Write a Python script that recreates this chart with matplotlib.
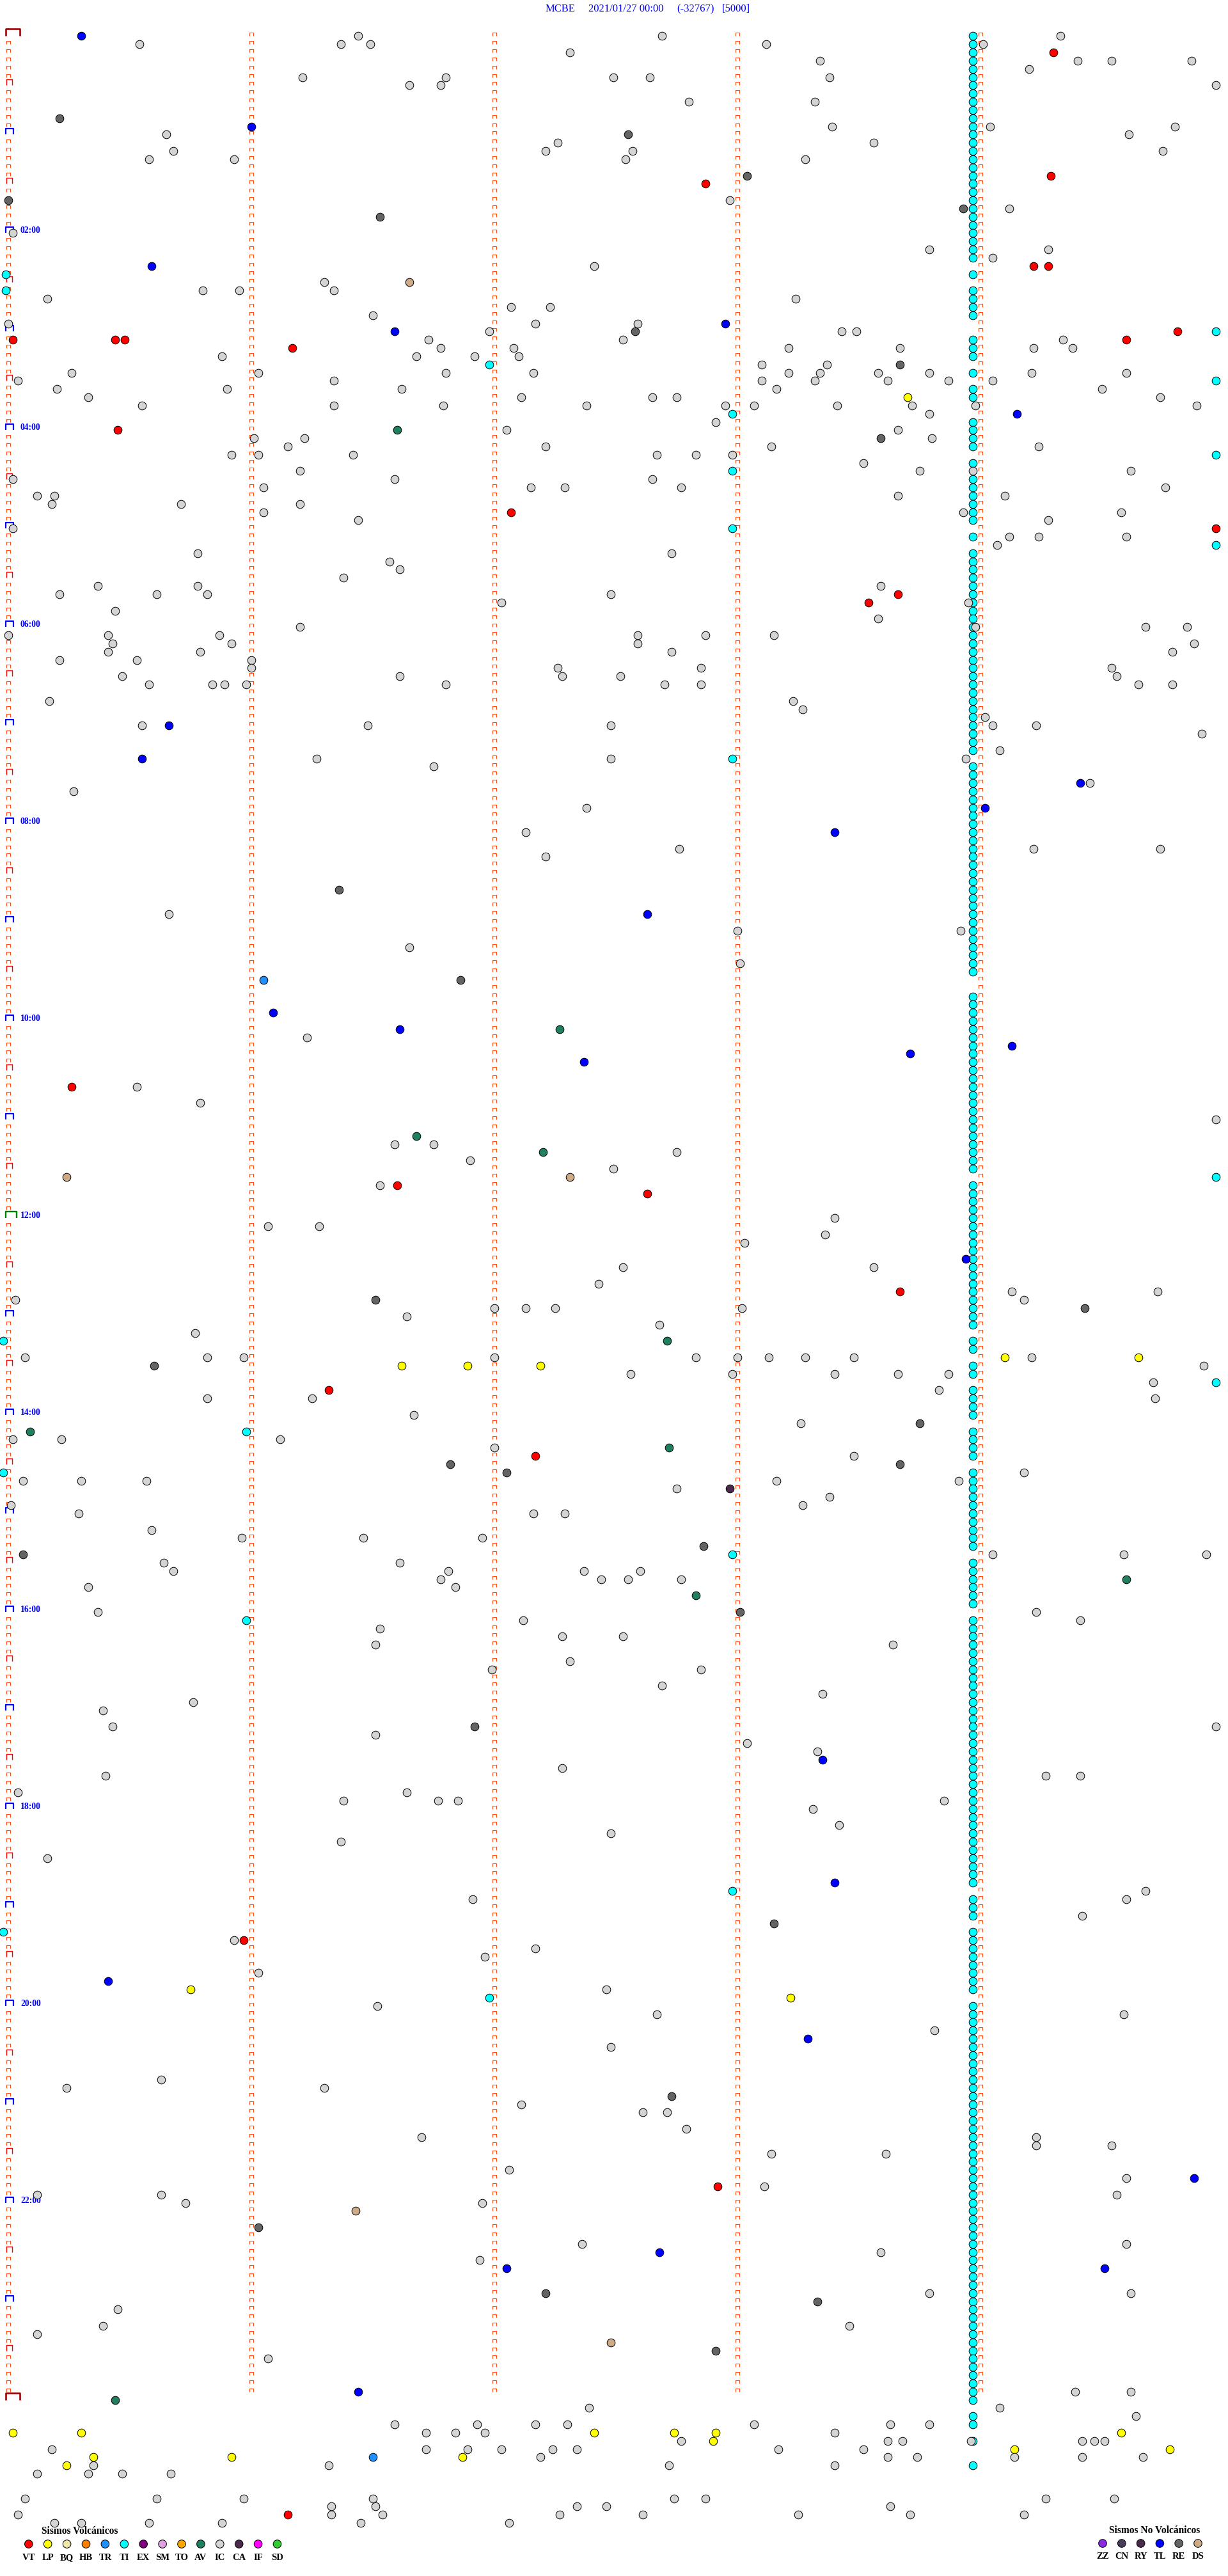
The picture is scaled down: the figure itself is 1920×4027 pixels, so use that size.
import matplotlib
matplotlib.use("Agg")
import matplotlib.pyplot as plt
from matplotlib.path import Path
from matplotlib import transforms
import numpy as np

plt.rcParams['font.family'] = ['Liberation Serif', 'DejaVu Serif']

W, H, DPI = 1920, 4027, 100
PT = 72.0 / DPI  # points per pixel

# ---------------- data ----------------
STATION = "MCBE"
DATE = "2021/01/27 00:00"
OFFSET = "(-32767)"
SCALE = "[5000]"
N_ROWS = 288            # 5-minute rows of the day
N_COLS = 5              # minute ticks per row
HOUR_LABELS = ["02:00", "04:00", "06:00", "08:00", "10:00", "12:00",
               "14:00", "16:00", "18:00", "20:00", "22:00"]

# events: (row, minute within row)
TI_RUNS = [(0, 27), (29, 29), (31, 34), (37, 39), (41, 41), (43, 44), (47, 50), (52, 52),
           (54, 59), (61, 61), (63, 87), (89, 114), (117, 138), (140, 157), (159, 160),
           (162, 163), (165, 168), (170, 173), (175, 184), (186, 191), (193, 225),
           (227, 229), (231, 238), (240, 288), (290, 291), (293, 293), (296, 296)]
TI_RUN_MIN = 3.97
TI = [(29, -0.01), (31, -0.01), (36, 4.97), (40, 1.98), (42, 4.97), (46, 2.98), (51, 4.97),
      (53, 2.98), (60, 2.98), (62, 4.97), (88, 2.98), (139, 4.97), (159, -0.02), (164, 4.97),
      (170, 0.98), (175, -0.02), (185, 2.98), (193, 0.98), (226, 2.98), (231, -0.02), (239, 1.98)]

IC = [
(0,1.44),(0,2.69),(0,4.33),(1,0.54),(1,1.37),(1,1.49),(1,3.12),(1,4.01),(2,2.31),(3,3.34),(3,4.40),(3,4.54),(3,4.87),(4,4.20),
(5,1.21),(5,1.80),(5,2.49),(5,2.64),(5,3.38),(6,1.65),(6,1.78),(6,4.97),(8,2.80),(8,3.32),
(11,3.39),(11,4.04),(11,4.80),(12,0.65),(12,4.61),(13,2.26),(13,3.56),(14,0.68),(14,2.21),(14,2.57),(14,4.75),
(15,0.58),(15,0.93),(15,2.54),(15,3.28),(20,2.97),(21,4.12),(24,0.02),(26,3.79),(26,4.28),(27,4.05),(28,2.41),
(30,1.30),(31,0.80),(31,0.95),(31,1.34),(32,0.16),(32,3.24),(33,2.07),(33,2.23),(34,1.50),
(35,0.00),(35,2.17),(35,2.59),(36,1.98),(36,3.43),(36,3.49),(37,1.73),(37,2.53),(37,4.34),
(38,1.78),(38,2.08),(38,3.21),(38,3.67),(38,4.22),(38,4.38),(39,0.88),(39,1.68),(39,1.92),(39,2.10),
(40,3.10),(40,3.37),(41,0.26),(41,1.03),(41,1.80),(41,2.16),(41,3.21),(41,3.34),(41,3.58),(41,3.79),(41,4.21),(41,4.60),
(42,0.04),(42,1.34),(42,3.10),(42,3.32),(42,3.62),(42,3.87),(42,4.05),(43,0.20),(43,0.90),(43,1.62),(43,3.16),(43,4.50),
(44,0.33),(44,2.11),(44,2.65),(44,2.75),(44,4.74),(45,0.55),(45,1.34),(45,1.79),(45,2.38),(45,2.95),(45,3.07),(45,3.41),(45,3.72),(45,3.98),(45,4.89),
(46,3.79),(47,2.91),(48,2.05),(48,3.66),(49,1.01),(49,1.22),(49,3.80),(50,1.15),(50,2.21),(50,3.14),(50,4.24),
(51,0.92),(51,1.03),(51,1.42),(51,2.67),(51,2.83),(51,2.98),(52,3.52),(53,1.20),(53,3.75),(53,3.97),(53,4.62),
(54,0.02),(54,1.59),(54,2.65),(55,1.05),(55,2.15),(55,2.29),(55,2.77),(55,4.76),(56,0.12),(56,0.19),(56,3.66),(56,4.10),
(57,0.18),(57,0.71),(57,1.20),(58,1.05),(58,3.93),(58,4.58),(59,1.44),(59,4.28),(60,0.02),(61,4.12),(61,4.24),(61,4.60),(62,4.07),
(63,0.78),(63,2.73),(64,1.57),(65,1.61),(66,1.38),(67,0.37),(67,0.78),(67,3.59),(68,0.21),(68,0.61),(68,0.82),(68,2.48),
(69,2.03),(69,3.95),(70,0.44),(71,3.58),(72,1.20),(72,3.98),(72,4.68),(72,4.85),
(73,0.00),(73,0.41),(73,0.87),(73,2.59),(73,2.87),(73,3.15),(74,0.43),(74,0.92),(74,2.59),(74,4.88),
(75,0.41),(75,0.79),(75,2.73),(75,4.79),(76,0.21),(76,0.53),(76,1.00),(77,1.00),(77,2.26),(77,2.85),(77,4.54),
(78,0.47),(78,1.61),(78,2.28),(78,2.52),(78,4.56),
(79,0.58),(79,0.84),(79,0.89),(79,0.98),(79,1.80),(79,2.70),(79,2.85),(79,4.65),(79,4.79),
(81,0.17),(81,3.23),(82,3.27),(83,4.02),(84,0.55),(84,1.48),(84,2.48),(84,4.05),(84,4.23),(85,4.91),(87,4.08),
(88,1.27),(88,2.48),(88,3.94),(89,1.75),(91,4.45),(92,0.27),(94,2.38),(97,2.13),(99,2.76),(99,4.22),(99,4.74),(100,2.21),
(107,0.66),(109,3.00),(109,3.92),(111,1.65),(113,3.01),(122,1.23),(128,0.53),(130,0.79),(132,4.97),
(135,1.59),(135,1.75),(136,2.75),(137,1.90),(138,2.49),(140,1.53),(144,3.40),(145,1.07),(145,1.28),(146,3.36),(147,3.03),
(150,2.53),(150,3.56),(152,2.43),(153,4.13),(153,4.73),(154,0.03),(154,4.18),(155,2.00),(155,2.13),(155,2.25),(155,3.02),
(156,1.64),(157,2.68),(158,0.77),(161,0.07),(161,0.82),(161,0.97),(161,2.00),(161,2.83),(161,3.00),(161,3.13),(161,3.28),(161,3.48),(161,4.21),
(162,4.92),(163,2.56),(163,2.98),(163,3.40),(163,3.66),(163,3.87),(164,4.71),(165,3.83),(166,0.82),(166,1.25),(166,4.72),
(168,1.67),(169,3.26),(171,0.02),(171,0.22),(171,1.12),(172,2.00),(173,3.48),(175,4.18),
(176,0.06),(176,0.30),(176,0.57),(176,3.16),(176,3.91),(177,2.75),(178,3.38),(179,0.01),(179,3.27),(180,0.29),(180,2.16),(180,2.29),
(182,0.59),(183,0.96),(183,1.46),(183,1.95),(185,4.05),(185,4.59),(185,4.93),(186,0.64),(186,1.61),
(187,0.68),(187,1.81),(187,2.37),(187,2.60),(188,1.78),(188,2.44),(188,2.55),(188,2.77),(189,0.33),(189,1.84),
(192,0.37),(192,4.23),(193,2.12),(193,4.41),(194,1.53),(195,2.28),(195,2.53),(196,1.51),(196,3.64),
(198,2.31),(199,1.99),(199,2.85),(201,2.69),(202,3.35),(203,0.76),(204,0.39),(206,0.43),(206,4.97),(207,1.51),(208,3.04),(209,3.33),
(211,2.28),(212,0.40),(212,4.27),(212,4.41),(214,0.04),(214,1.64),(215,1.38),(215,1.77),(215,1.85),(215,3.85),(216,3.31),(218,3.42),
(219,2.48),(220,1.37),(222,0.16),(226,4.68),(227,1.91),(227,4.60),(229,4.42),(232,0.93),(233,2.17),(234,1.96),(236,1.03),
(238,2.46),(240,1.52),(241,2.67),(241,4.59),(243,3.81),(245,2.48),(249,0.63),(250,0.24),(250,1.30),(252,2.11),(253,2.61),(253,2.71),
(255,2.79),(256,1.70),(256,4.23),(257,4.23),(257,4.54),(258,3.14),(258,3.61),(260,2.06),(261,4.60),(262,3.11),
(263,0.12),(263,0.63),(263,4.56),(264,0.73),(264,1.95),(269,2.36),(269,4.60),(270,3.59),(271,1.94),(275,3.79),(275,4.62),
(277,0.45),(279,0.39),(279,3.46),(280,0.12),(283,1.07),(287,4.39),(287,4.62),
(289,2.39),(289,4.08),(290,4.64),(291,1.59),(291,1.93),(291,2.17),(291,2.30),(291,3.07),(291,3.63),(291,3.79),
(292,1.72),(292,1.84),(292,1.96),(292,3.40),(293,2.77),(293,3.62),(293,3.68),(293,3.96),(293,4.42),(293,4.47),(293,4.51),
(294,0.18),(294,1.72),(294,1.89),(294,2.03),(294,2.24),(294,2.34),(294,3.17),(294,3.52),
(295,2.19),(295,3.62),(295,3.74),(295,4.14),(295,4.42),(295,4.67),
(296,0.35),(296,1.32),(296,2.72),(296,3.40),(297,0.12),(297,0.33),(297,0.47),(297,0.67),
(300,0.07),(300,0.61),(300,0.97),(300,1.50),(300,2.74),(300,2.87),(300,4.27),(300,4.55),
(301,1.33),(301,1.51),(301,2.34),(301,2.46),(301,3.63),
(302,0.04),(302,1.33),(302,1.54),(302,2.27),(302,2.61),(302,3.25),(302,3.71),(302,4.18),
(303,0.19),(303,0.30),(303,0.58),(303,0.88),(303,1.45),(303,2.06)]

RE = [(10,0.21),(12,2.55),(17,3.04),(20,0.00),(21,3.93),(22,1.53),(36,2.58),(40,3.67),(49,3.59),(104,1.36),
      (115,1.86),(154,1.51),(155,4.43),(162,0.60),(169,3.75),(174,1.82),(175,2.05),(174,3.67),(184,2.86),
      (185,0.06),(192,3.01),(206,1.92),(230,3.15),(251,2.73),(267,1.03),(275,2.21),(276,3.33),(282,2.91)]

TL = [(0,0.30),(11,1.00),(28,0.59),(35,2.95),(36,1.59),(46,4.15),(84,0.66),(88,0.55),(91,4.41),(94,4.02),
      (97,3.40),(107,2.63),(119,1.09),(121,1.61),(123,4.13),(124,3.71),(125,2.37),(149,3.94),(210,3.35),
      (225,3.40),(237,0.41),(244,3.29),(261,4.88),(270,2.68),(272,2.05),(272,4.51),(287,1.44)]

VT = [(2,4.30),(17,4.29),(18,2.87),(28,4.22),(28,4.28),(37,0.02),(37,0.44),(37,0.48),(38,1.17),(37,4.60),
      (36,4.81),(48,0.45),(58,2.07),(60,4.97),(68,3.66),(69,3.54),(128,0.26),(140,1.60),(141,2.63),
      (153,3.67),(165,1.32),(173,2.17),(232,0.97),(262,2.92),(302,1.15)]

LP = [(44,3.70),(161,4.10),(161,4.65),(162,1.62),(162,1.89),(162,2.19),(238,0.75),(239,3.22),(292,0.02),
      (292,0.30),(292,2.41),(292,2.74),(292,2.91),(292,4.58),(293,2.90),(294,4.14),(294,4.78),(295,0.35),
      (295,0.92),(295,1.87),(296,0.24)]

AV = [(48,1.60),(121,2.27),(134,1.68),(136,2.20),(159,2.71),(170,0.09),(172,2.72),(188,4.60),(190,2.83),(288,0.44)]
DS = [(30,1.65),(139,0.24),(139,2.31),(265,1.43),(281,2.48)]
CA = [(177,2.97)]
TR = [(115,1.05),(295,1.50)]

VOLC_CODES = ["VT", "LP", "BQ", "HB", "TR", "TI", "EX", "SM", "TO", "AV", "IC", "CA", "IF", "SD"]
NONVOLC_CODES = ["ZZ", "CN", "RY", "TL", "RE", "DS"]
COLORS = {"VT": "#FF0000", "LP": "#FFFF00", "BQ": "#EEE6A8", "HB": "#FF7F00", "TR": "#1E90FF",
          "TI": "#00FFFF", "EX": "#800080", "SM": "#E0A0E0", "TO": "#FFA500", "AV": "#1F7F5F",
          "IC": "#D4D4D4", "CA": "#4A2A4A", "IF": "#FF00FF", "SD": "#33CC33",
          "ZZ": "#8A2BE2", "CN": "#4A3D5C", "RY": "#4A2A4A", "TL": "#0000FF", "RE": "#646464",
          "DS": "#CFAA86"}

# ---------------- figure ----------------
fig = plt.figure(figsize=(W / DPI, H / DPI), dpi=DPI)
ax = fig.add_axes([0, 0, 1, 1])
X0, XS = 12.8, 380.0      # pixel of minute 0, pixels per minute
Y0, YS = 56.5, 12.83      # pixel of row 0 baseline, pixels per row
ax.set_xlim(-X0 / XS, (W - X0) / XS)
ax.set_ylim((H - Y0) / YS, -Y0 / YS)
ax.axis('off')


def cap(left, right, h):
    verts = [(-left, 0), (-left, h), (right, h), (right, 0)]
    p = Path(verts, [Path.MOVETO, Path.LINETO, Path.LINETO, Path.LINETO])
    return p, 2 * max(left, right, h) * PT


def draw_caps(xs, ys, shape, color, lw):
    p, size = shape
    ax.plot(xs, ys, linestyle='none', marker=p, markersize=size, markerfacecolor='none',
            markeredgecolor=color, markeredgewidth=lw * PT, zorder=1)


rows = np.arange(N_ROWS)
special0 = set([0]) | set(range(6, N_ROWS, 6))
sx, sy = [], []
for k in range(N_COLS):
    for r in rows:
        if k == 0 and r in special0:
            continue
        sx.append(k); sy.append(r)
draw_caps(sx, sy, cap(2.8, 2.8, 5.0), "#FF4A10", 1.1)

half_rows = [r for r in range(6, N_ROWS, 12)]
draw_caps([0] * len(half_rows), half_rows, cap(2.8, 5.9, 8.6), "#FF0000", 1.4)
hour_rows = [r for r in range(12, N_ROWS, 12) if r != 144]
draw_caps([0] * len(hour_rows), hour_rows, cap(3.6, 7.8, 8.6), "#0000FF", 2.2)
draw_caps([0], [144], cap(3.6, 12.9, 10.0), "#008000", 2.4)
draw_caps([0, 0], [0, N_ROWS], cap(3.6, 17.9, 10.6), "#990000", 2.6)

# hour labels
lab_tr = transforms.offset_copy(ax.transData, fig=fig, x=(32 - X0) * PT, y=0, units='points')
for lab in HOUR_LABELS:
    r = int(lab[:2]) * 60 // 5
    ax.text(0, r, lab, transform=lab_tr, color="#0000FF", fontsize=9.8, fontweight='bold',
            ha='left', va='baseline')

# events
CIRC = (12.6 * PT) ** 2
EDGE = 1.0 * PT


def draw_events(ev, code, z=3):
    if not ev:
        return
    ys = [e[0] for e in ev]
    xs = [e[1] for e in ev]
    ax.scatter(xs, ys, s=CIRC, c=COLORS[code], edgecolors='black', linewidths=EDGE, zorder=z)


ti_rows = [r for a, b in TI_RUNS for r in range(a, b + 1)]
draw_events([(r, TI_RUN_MIN) for r in ti_rows], "TI", z=2)
draw_events(TI, "TI")
draw_events(IC, "IC", z=3.1)
draw_events(RE, "RE")
draw_events(TL, "TL")
draw_events(VT, "VT")
draw_events(LP, "LP")
draw_events(AV, "AV")
draw_events(DS, "DS")
draw_events(CA, "CA")
draw_events(TR, "TR")


# title
def ftext(xp, yp, s, **kw):
    fig.text(xp / W, 1 - yp / H, s, **kw)


for xp, s in [(853, STATION), (920, DATE), (1058, OFFSET), (1129, SCALE)]:
    ftext(xp, 18.5, s, color="#0000FF", fontsize=12, ha='left', va='baseline')


# legends
def legend(codes, x_first, dx, y_mark, y_lab, header, x_head, y_head):
    xs = [(x_first + dx * i) / W for i in range(len(codes))]
    ys = [1 - y_mark / H] * len(codes)
    ax.scatter(xs, ys, s=CIRC, c=[COLORS[c] for c in codes], edgecolors='black',
               linewidths=EDGE, transform=fig.transFigure, clip_on=False, zorder=5)
    for i, c in enumerate(codes):
        ftext(x_first + dx * i, y_lab, c, color='black', fontsize=10.5, fontweight='bold',
              ha='center', va='baseline')
    ftext(x_head, y_head, header, color='black', fontsize=11.2, fontweight='bold',
          ha='center', va='baseline')


legend(VOLC_CODES, 44.8, 29.9, 3977, 4002, "Sismos Volcánicos", 125, 3961)
legend(NONVOLC_CODES, 1724, 29.8, 3976, 4000, "Sismos No Volcánicos", 1805, 3960)

fig.savefig("out.png", dpi=DPI, facecolor='white')
